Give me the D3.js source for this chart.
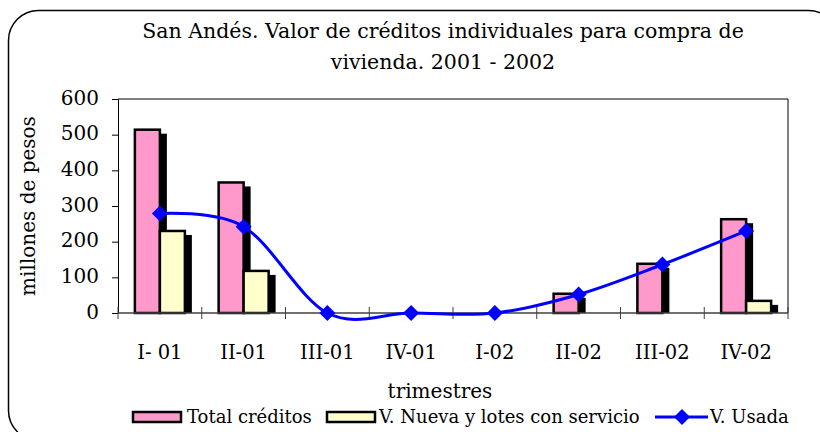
<!DOCTYPE html>
<html>
<head>
<meta charset="utf-8">
<script src="https://cdn.jsdelivr.net/npm/d3@7"></script>
<style>
  body { margin: 0; background: #fff; }
  svg { display: block; font-family: "DejaVu Serif", serif; }
</style>
</head>
<body>
<div class="chart"></div>
<script>
const width = 820;
const height = 432;

// datos
const trimestres = ["I- 01", "II-01", "III-01", "IV-01", "I-02", "II-02", "III-02", "IV-02"];
const totalCreditos = [514, 366, 0, 0, 0, 54, 138, 263];
const viviendaNueva = [230, 118, 0, 0, 0, 0, 0, 34];
const viviendaUsada = [279, 242, 0, 0, 0, 52, 136, 230];
const yTicks = [0, 100, 200, 300, 400, 500, 600];

const margin = { left: 118, right: 32, top: 99, bottom: 119 };

const svg = d3.select(".chart")
  .append("svg")
  .attr("width", width)
  .attr("height", height);

// marco redondeado
svg.append("rect")
  .attr("x", 8.5).attr("y", 10.5)
  .attr("width", 830).attr("height", 430)
  .attr("rx", 30).attr("ry", 30)
  .attr("fill", "#fff")
  .attr("stroke", "#000")
  .attr("stroke-width", 1.5);

// título
const title = svg.append("text")
  .attr("text-anchor", "middle")
  .attr("font-size", 20.5)
  .attr("fill", "#000");
title.append("tspan").attr("x", 443).attr("y", 38)
  .text("San Andés. Valor de créditos individuales para compra de");
title.append("tspan").attr("x", 443).attr("y", 69)
  .text("vivienda. 2001 - 2002");

const x = d3.scaleBand()
  .domain(trimestres)
  .range([margin.left, width - margin.right]);

const series = ["total", "nueva"];
const xInner = d3.scaleBand()
  .domain(series)
  .range([0, x.bandwidth()])
  .paddingInner(0)
  .paddingOuter(0.675);

const y = d3.scaleLinear()
  .domain([0, 600])
  .range([height - margin.bottom, margin.top]);

// borde del área de trazado
svg.append("path")
  .attr("d", `M${margin.left},${margin.top}H${width - margin.right}V${y(0)}`)
  .attr("fill", "none")
  .attr("stroke", "#000")
  .attr("stroke-width", 1);

// barras con sombra
const barData = [
  { key: "total", values: totalCreditos, fill: "#FF99CC" },
  { key: "nueva", values: viviendaNueva, fill: "#FFFFCC" },
];

const bars = svg.append("g");
barData.forEach(s => {
  s.values.forEach((v, i) => {
    if (v <= 0) return;
    const bx = x(trimestres[i]) + xInner(s.key);
    const bw = xInner.bandwidth();
    bars.append("rect")
      .attr("x", bx + 7)
      .attr("y", y(v) + 4)
      .attr("width", bw)
      .attr("height", Math.max(0, y(0) - y(v) - 4))
      .attr("fill", "#000");
    bars.append("rect")
      .attr("x", bx)
      .attr("y", y(v))
      .attr("width", bw)
      .attr("height", y(0) - y(v))
      .attr("fill", s.fill)
      .attr("stroke", "#000")
      .attr("stroke-width", 2.5);
  });
});

// eje y
const yAxis = d3.axisLeft(y).tickValues(yTicks).tickSize(6).tickPadding(13);
const gy = svg.append("g")
  .attr("transform", `translate(${margin.left},0)`)
  .call(yAxis);
gy.select(".domain").attr("stroke", "#000");
gy.selectAll(".tick line").attr("stroke", "#000");
gy.selectAll("text")
  .attr("font-family", "DejaVu Serif")
  .attr("font-size", 20)
  .attr("fill", "#000")
  .attr("dy", "0.25em");

// eje x
const xTicks = d3.range(trimestres.length + 1).map(i => margin.left + i * x.step());
const gx = svg.append("g");
gx.append("line")
  .attr("x1", margin.left).attr("x2", width - margin.right)
  .attr("y1", y(0)).attr("y2", y(0))
  .attr("stroke", "#404040").attr("stroke-width", 1.5);
gx.selectAll(".tk")
  .data(xTicks)
  .join("line")
  .attr("x1", d => d).attr("x2", d => d)
  .attr("y1", y(0) - 6).attr("y2", y(0) + 6)
  .attr("stroke", "#404040");
gx.selectAll(".lbl")
  .data(trimestres)
  .join("text")
  .attr("x", d => x(d) + x.bandwidth() / 2)
  .attr("y", 359)
  .attr("text-anchor", "middle")
  .attr("font-size", 19.5)
  .text(d => d);

// línea suavizada V. Usada
const line = d3.line()
  .x((d, i) => x(trimestres[i]) + x.bandwidth() / 2)
  .y(d => y(d))
  .curve(d3.curveCardinal.tension(0));

svg.append("path")
  .datum(viviendaUsada)
  .attr("d", line)
  .attr("fill", "none")
  .attr("stroke", "#0000FF")
  .attr("stroke-width", 3);

const diamond = d3.symbol().type(d3.symbolSquare).size(128);
svg.append("g")
  .selectAll("path")
  .data(viviendaUsada)
  .join("path")
  .attr("d", diamond)
  .attr("transform", (d, i) => `translate(${x(trimestres[i]) + x.bandwidth() / 2},${y(d)}) rotate(45)`)
  .attr("fill", "#0000FF");

// títulos de ejes
svg.append("text")
  .attr("transform", `translate(35,${(y(0) + y(600)) / 2}) rotate(-90)`)
  .attr("text-anchor", "middle")
  .attr("font-size", 20)
  .text("millones de pesos");

svg.append("text")
  .attr("x", 440).attr("y", 398)
  .attr("text-anchor", "middle")
  .attr("font-size", 20)
  .text("trimestres");

// leyenda
const legend = svg.append("g").attr("font-size", 18);
legend.append("rect")
  .attr("x", 133).attr("y", 412).attr("width", 48).attr("height", 10)
  .attr("fill", "#FF99CC").attr("stroke", "#000").attr("stroke-width", 2.5);
legend.append("text").attr("x", 187).attr("y", 423).text("Total créditos");
legend.append("rect")
  .attr("x", 327).attr("y", 412).attr("width", 48).attr("height", 10)
  .attr("fill", "#FFFFCC").attr("stroke", "#000").attr("stroke-width", 2.5);
legend.append("text").attr("x", 379).attr("y", 423).text("V. Nueva y lotes con servicio");
legend.append("line")
  .attr("x1", 655).attr("x2", 708).attr("y1", 417).attr("y2", 417)
  .attr("stroke", "#0000FF").attr("stroke-width", 3);
legend.append("path")
  .attr("d", diamond)
  .attr("transform", "translate(682,417) rotate(45)")
  .attr("fill", "#0000FF");
legend.append("text").attr("x", 710).attr("y", 423).text("V. Usada");
</script>
</body>
</html>
